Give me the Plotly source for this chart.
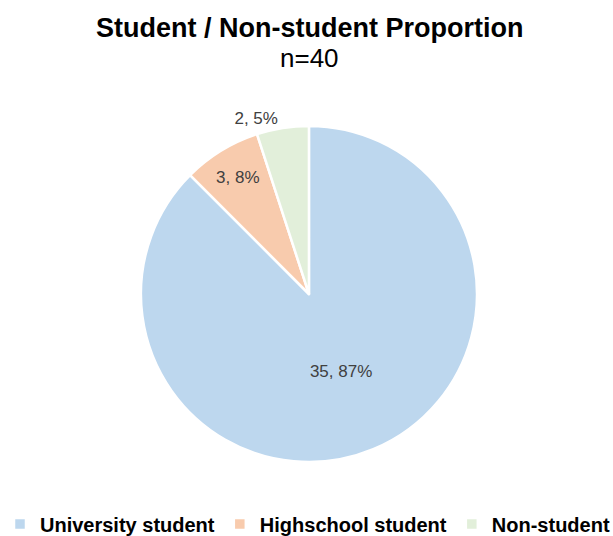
import plotly.graph_objects as go

# Respondent groups and counts
categories = ["University student", "Highschool student", "Non-student"]
counts = [35, 3, 2]
percent_labels = ["87%", "8%", "5%"]
colors = ["#BDD7EE", "#F8CBAD", "#E2EFDA"]

slice_text = [f"{c}, {p}" for c, p in zip(counts, percent_labels)]

FONT = "Liberation Sans, Arial, sans-serif"

fig = go.Figure(
    go.Pie(
        labels=categories,
        values=counts,
        text=slice_text,
        textinfo="text",
        textposition=["inside", "inside", "outside"],
        insidetextorientation="horizontal",
        sort=False,
        direction="clockwise",
        rotation=0,
        marker=dict(colors=colors, line=dict(color="white", width=2.5)),
        textfont=dict(family=FONT, size=17, color="#404040"),
        outsidetextfont=dict(family=FONT, size=17, color="#404040"),
        domain=dict(x=[0.008, 1.0], y=[0.138, 0.765]),
        hoverinfo="label+value+percent",
    )
)

fig.update_layout(
    width=613,
    height=536,
    margin=dict(l=0, r=0, t=0, b=0, autoexpand=False),
    paper_bgcolor="white",
    font=dict(family=FONT, color="#000000"),
    annotations=[
        dict(
            text="<b>Student / Non-student Proportion</b>",
            x=309 / 613, y=1 - 28 / 536,
            xref="paper", yref="paper",
            xanchor="center", yanchor="middle",
            showarrow=False,
            font=dict(family=FONT, size=27, color="#000000"),
        ),
        dict(
            text="n=40",
            x=309 / 613, y=1 - 58 / 536,
            xref="paper", yref="paper",
            xanchor="center", yanchor="middle",
            showarrow=False,
            font=dict(family=FONT, size=26, color="#000000"),
        ),
    ],
    legend=dict(
        orientation="h",
        x=0,
        xanchor="left",
        y=1 - 524 / 536,
        yanchor="middle",
        font=dict(family=FONT, size=20, color="#000000", weight="bold"),
        itemwidth=30,
        traceorder="normal",
    ),
)

fig.write_html("out.html")
